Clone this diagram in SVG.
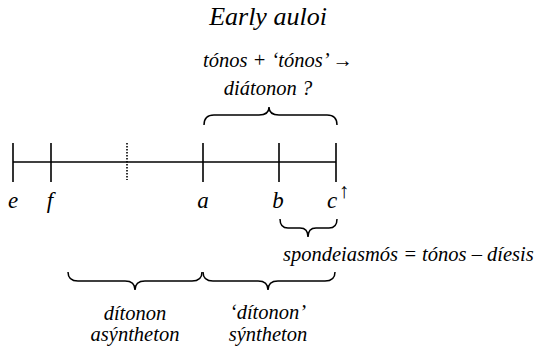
<svg xmlns="http://www.w3.org/2000/svg" width="540" height="350" viewBox="0 0 540 350">
<style>
text{font-family:"Liberation Serif","Times New Roman",serif;font-style:italic;fill:#000}
.t{font-size:26px}
.m{font-size:20.5px}
.l{font-size:23px}
.ln{stroke:#000;stroke-width:1.6;fill:none}
.br{stroke:#000;stroke-width:1.5;fill:none}
</style>
<rect width="540" height="350" fill="#fff"/>
<text class="t" x="268" y="25" text-anchor="middle">Early auloi</text>
<g id="scale">
<line class="ln" x1="13" y1="162" x2="336" y2="162"/>
<line class="ln" x1="13" y1="143" x2="13" y2="182"/>
<line class="ln" x1="51" y1="143" x2="51" y2="182"/>
<line class="ln" x1="127" y1="143" x2="127" y2="180" stroke-dasharray="1.5,1.5" stroke-width="1.2"/>
<line class="ln" x1="203" y1="143" x2="203" y2="182"/>
<line class="ln" x1="279" y1="143" x2="279" y2="182"/>
<line class="ln" x1="336" y1="143" x2="336" y2="182"/>
</g>
<g id="labels">
<text class="l" x="13" y="208" text-anchor="middle">e</text>
<text class="l" x="50" y="208" text-anchor="middle">f</text>
<text class="l" x="203" y="208" text-anchor="middle">a</text>
<text class="l" x="278" y="208" text-anchor="middle">b</text>
<text class="l" x="332" y="208" text-anchor="middle">c</text>
<text x="344" y="198" font-size="21" font-style="normal" fill="#444" text-anchor="middle">↑</text>
</g>
<g id="brace-top">
<path class="br" d="M204,125 Q204,115 214,115 L259,115 Q269,115 269,107 Q269,115 279,115 L327,115 Q337,115 337,125"/>
<text class="m" x="278" y="67" text-anchor="middle">tónos + ‘tónos’ →</text>
<text class="m" x="268" y="95" text-anchor="middle">diátonon ?</text>
</g>
<g id="brace-bc">
<path class="br" d="M280,219 Q280,228 288,228 L300,228 Q308,228 308,237 Q308,228 316,228 L329,228 Q337,228 337,219"/>
<text class="m" x="283" y="261">spondeiasmós = tónos – díesis</text>
</g>
<g id="brace-ditonon">
<path class="br" d="M68,272 Q68,281 78,281 L125,281 Q135,281 135,290 Q135,281 145,281 L192,281 Q202,281 202,272"/>
<text class="m" x="135" y="320" text-anchor="middle">dítonon</text>
<text class="m" x="135" y="341" text-anchor="middle">asýntheton</text>
</g>
<g id="brace-syntheton">
<path class="br" d="M203,272 Q203,281 213,281 L258,281 Q268,281 268,290 Q268,281 278,281 L325,281 Q335,281 335,272"/>
<text class="m" x="268" y="319" text-anchor="middle">‘dítonon’</text>
<text class="m" x="268" y="341" text-anchor="middle">sýntheton</text>
</g>
</svg>
